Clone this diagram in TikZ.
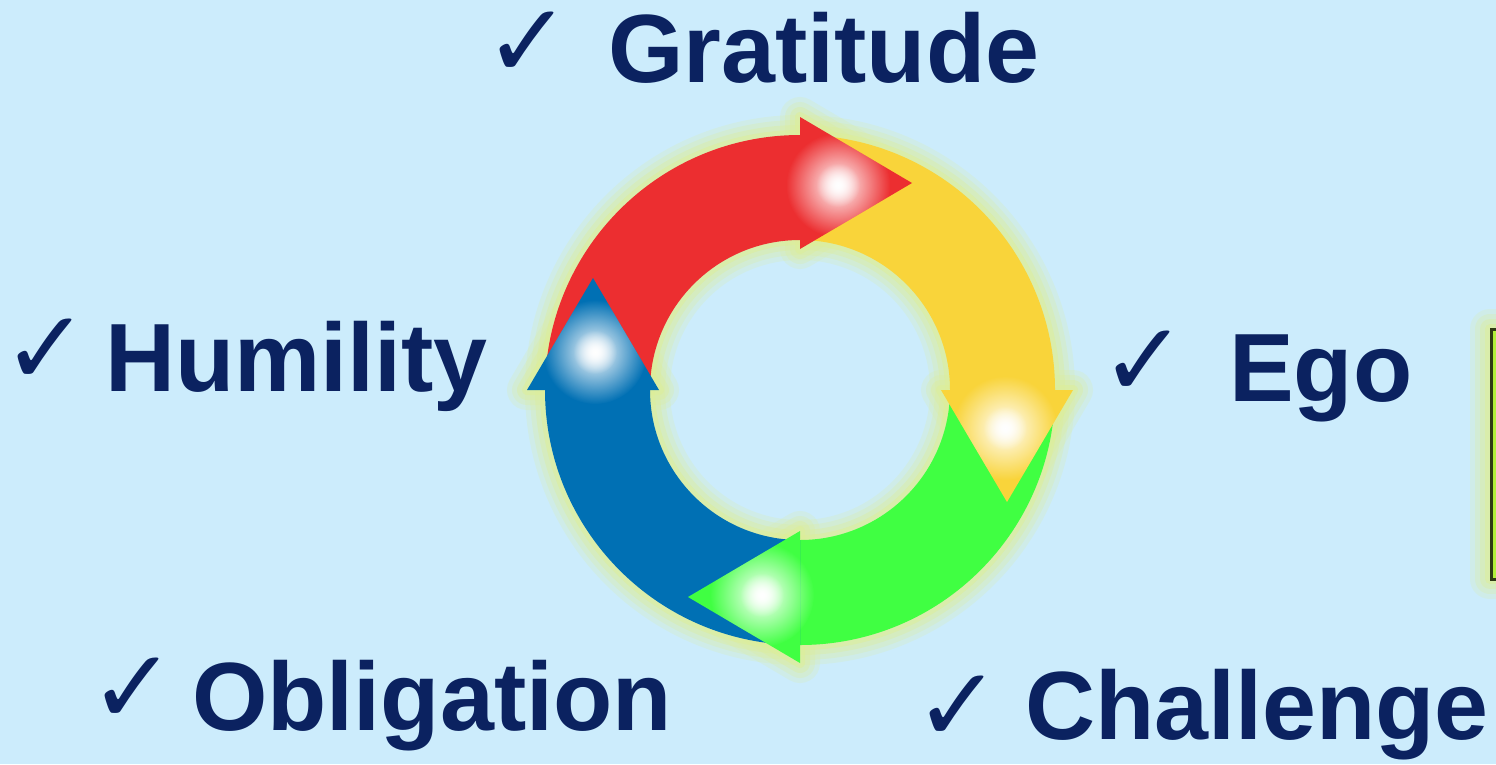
\documentclass[tikz,border=0pt]{standalone}
\usepackage{fontspec}
\newfontfamily\labfont{Liberation Sans}
\newfontfamily\symfont{DejaVu Sans}
\usetikzlibrary{fadings}
\definecolor{bg}{HTML}{CCECFC}
\definecolor{navy}{HTML}{0B2260}
\definecolor{glowc}{HTML}{DDEE99}
\definecolor{ared}{HTML}{EC2E30}
\definecolor{ayellow}{HTML}{F9D43A}
\definecolor{agreen}{HTML}{40FF42}
\definecolor{ablue}{HTML}{0070B4}
\definecolor{lime}{HTML}{B2F03A}
\definecolor{olivec}{HTML}{2E3A14}
\tikzfading[name=spotfade, inner color=transparent!0, outer color=transparent!100]
\tikzset{
  lab/.style={text=navy, inner sep=0pt, anchor=base west, font=\labfont\bfseries\fontsize{97}{110}\selectfont},
  chk/.style={text=navy, inner sep=0pt, anchor=center, font=\symfont\bfseries\fontsize{104}{108}\selectfont},
}
\begin{document}
\begin{tikzpicture}[x=1pt,y=1pt]
\fill[bg] (0,0) rectangle (1496,-764);
\useasboundingbox (0,0) rectangle (1496,-764);
% glow
\foreach \w/\o in {40/0.2, 30/0.25, 20/0.35, 10/0.5}{
  \draw[glowc, line width=\w, opacity=\o] (800,-390) circle (255);
  \draw[glowc, line width=\w, opacity=\o] (800,-390) circle (150);
  \foreach \r in {0,-90,-180,-270}{
    \begin{scope}[shift={(800,-390)}, rotate=\r]
      \draw[glowc, line width=\w, opacity=\o, line join=round] (0,141) -- (0,273) -- (112,207) -- cycle;
    \end{scope}
  }
  \draw[glowc, line width=\w, opacity=\o, line join=round] (1490,-329) rectangle (1510,-579);
}
% bodies
\foreach \r/\c in {0/ared, -90/ayellow, -180/agreen, -270/ablue}{
  \begin{scope}[shift={(800,-390)}, rotate=\r]
    \fill[\c] (180:255) arc[start angle=180, end angle=90, radius=255] -- (90:150) arc[start angle=90, end angle=180, radius=150] -- cycle;
  \end{scope}
}
% heads and highlights
\foreach \r/\c in {0/ared, -90/ayellow, -180/agreen, -270/ablue}{
  \begin{scope}[shift={(800,-390)}, rotate=\r]
    \fill[\c] (0,141) -- (0,273) -- (112,207) -- cycle;
    \begin{scope}
      \clip (0,141) -- (0,273) -- (112,207) -- cycle
            (180:255) arc[start angle=180, end angle=90, radius=255] -- (90:150) arc[start angle=90, end angle=180, radius=150] -- cycle;
      \fill[white, path fading=spotfade] (38,205) circle (52);
      \fill[white, path fading=spotfade] (38,205) circle (22);
    \end{scope}
  \end{scope}
}
% right partial box
\fill[lime] (1490,-329) rectangle (1500,-579);
\draw[olivec, line width=3] (1497,-329) -- (1491,-329) -- (1491,-579) -- (1497,-579);
% labels
\node[chk] (c1) at (528,-45) {✓};
\node[lab] (t1) at (608,-82) {Gratitude};
\node[chk] (c2) at (46,-352) {✓};
\node[lab] (t2) at (105,-391) {Humility};
\node[chk] (c3) at (1144,-364) {✓};
\node[lab] (t3) at (1229,-401) {Ego};
\node[chk] (c4) at (133,-691) {✓};
\node[lab] (t4) at (192,-730) {Obligation};
\node[chk] (c5) at (958,-709) {✓};
\node[lab] (t5) at (1025,-739) {Challenge};
\end{tikzpicture}
\end{document}
